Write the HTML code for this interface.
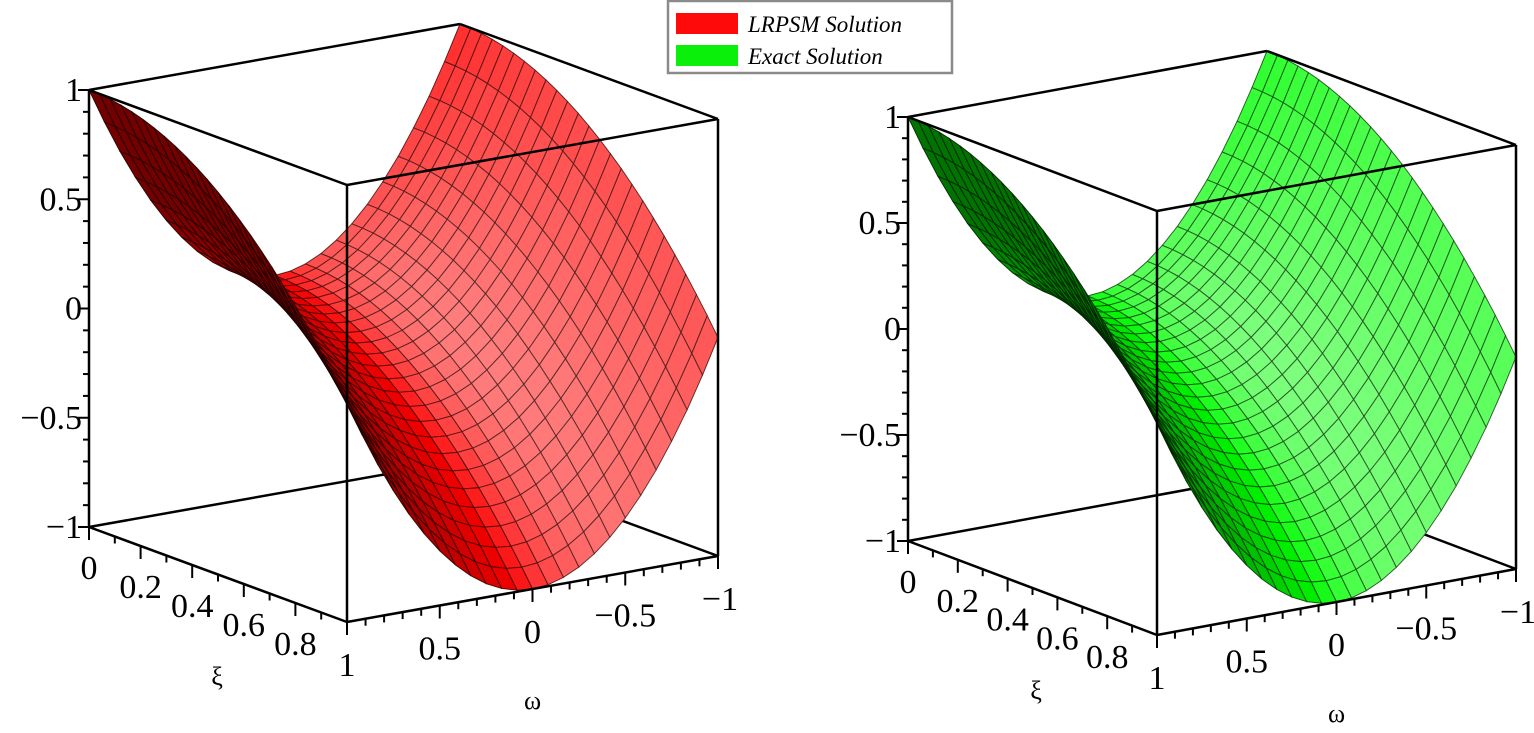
<!DOCTYPE html>
<html><head><meta charset="utf-8">
<style>
html,body{margin:0;padding:0;background:#fff;}
svg{display:block;}
text{font-family:"Liberation Serif",serif;fill:#000;}
</style></head>
<body>
<svg id="s" width="1534" height="733" viewBox="0 0 1534 733" xmlns="http://www.w3.org/2000/svg">
<rect x="0" y="0" width="1534" height="733" fill="#fff"/>
<g id="g1"></g><g id="g2"></g>
<rect x="668" y="1" width="284" height="72" fill="#fff" stroke="#8a8a8a" stroke-width="2.5"/>
<rect x="676" y="13" width="62" height="21" fill="#ff0a0a"/>
<rect x="676" y="45" width="62" height="21" fill="#0af00a"/>
<text x="748" y="32" font-size="23" font-style="italic">LRPSM Solution</text>
<text x="748" y="64" font-size="23" font-style="italic">Exact Solution</text>
</svg>
<script>
(function(){
var NS="http://www.w3.org/2000/svg";
function el(p,n,a,t){var e=document.createElementNS(NS,n);for(var k in a)e.setAttribute(k,a[k]);if(t!==undefined)e.textContent=t;p.appendChild(e);return e;}
function u(x,w){return w*w-x*x;}
function plot(g,A,Ap,Bp,Cp,green){
  var ex=[Bp[0]-Ap[0],Bp[1]-Ap[1]],ey=[Cp[0]-Bp[0],Cp[1]-Bp[1]],ez=[A[0]-Ap[0],A[1]-Ap[1]];
  function P(x,w,z){var yy=(1-w)/2,zz=(z+1)/2;return [Ap[0]+x*ex[0]+yy*ey[0]+zz*ez[0],Ap[1]+x*ex[1]+yy*ey[1]+zz*ez[1]];}
  var B=P(1,1,1),C=P(1,-1,1),D=P(0,-1,1),Dp=P(0,-1,-1);
  function line(p,q,w){el(g,"line",{x1:p[0],y1:p[1],x2:q[0],y2:q[1],stroke:"#000","stroke-width":w||2.5});}
  line(Ap,Dp);line(Dp,Cp);
  var N=24,quads=[];
  var L=[0.55,-0.75,1.0];var ln=Math.hypot(L[0],L[1],L[2]);L=L.map(function(v){return v/ln;});
  for(var i=0;i<N;i++)for(var j=0;j<N;j++){
    var x0=i/N,x1=(i+1)/N,w0=1-2*j/N,w1=1-2*(j+1)/N;
    var c=[[x0,w0],[x1,w0],[x1,w1],[x0,w1]];
    var pts=c.map(function(q){return P(q[0],q[1],u(q[0],q[1]));});
    var v3=c.map(function(q){return [q[0],(1-q[1])/2,(u(q[0],q[1])+1)/2];});
    var d1=[v3[2][0]-v3[0][0],v3[2][1]-v3[0][1],v3[2][2]-v3[0][2]];
    var d2=[v3[3][0]-v3[1][0],v3[3][1]-v3[1][1],v3[3][2]-v3[1][2]];
    var n=[d1[1]*d2[2]-d1[2]*d2[1],d1[2]*d2[0]-d1[0]*d2[2],d1[0]*d2[1]-d1[1]*d2[0]];
    var nl=Math.hypot(n[0],n[1],n[2])||1;n=n.map(function(v){return v/nl;});
    if(n[2]<0)n=n.map(function(v){return -v;});
    var t=Math.max(0,n[0]*L[0]+n[1]*L[1]+n[2]*L[2]);
    var h=Math.max(0,(t-0.72)/0.28);
    var m=Math.min(255,Math.round(115+175*t)),o=Math.round(125*h);
    var col=green?"rgb("+o+","+m+","+o+")":"rgb("+m+","+o+","+o+")";
    var xc=(x0+x1)/2,wc=(w0+w1)/2;
    var key=xc-(1-wc)/2+0.5*(u(xc,wc)+1)/2;
    quads.push({k:key,p:pts,c:col});
  }
  quads.sort(function(a,b){return a.k-b.k;});
  quads.forEach(function(q){
    var s=q.p.map(function(p){return p[0].toFixed(1)+","+p[1].toFixed(1);}).join(" ");
    el(g,"polygon",{points:s,fill:q.c,stroke:q.c,"stroke-width":0.6});
    el(g,"polygon",{points:s,fill:"none",stroke:"rgba(0,0,0,0.6)","stroke-width":1});
  });
  line(A,Ap);line(Ap,Bp);line(Bp,Cp);line(B,Bp);line(C,Cp);line(A,B);line(B,C);line(A,D);line(D,C);
  for(var k=0;k<=20;k++){var z=-1+k*0.1,p=P(0,1,z),len=(k%5==0)?11:6;line([p[0]-len,p[1]],p,2);}
  ["1","0.5","0","\u22120.5","\u22121"].forEach(function(s,idx){var z=1-idx*0.5,p=P(0,1,z);
    el(g,"text",{x:p[0]-7,y:p[1]+11,"font-size":34,"text-anchor":"end"},s);});
  for(var k=0;k<=10;k++){var p=P(k/10,1,-1),len=(k%2==0)?13:7;line(p,[p[0],p[1]+len],2);}
  ["0","0.2","0.4","0.6","0.8"].forEach(function(s,idx){var p=P(idx*0.2,1,-1);
    el(g,"text",{x:p[0],y:p[1]+52,"font-size":34,"text-anchor":"middle"},s);});
  for(var k=0;k<=20;k++){var p=P(1,1-k*0.1,-1),len=(k%5==0)?13:7;line(p,[p[0],p[1]+len],2);}
  ["1","0.5","0","\u22120.5","\u22121"].forEach(function(s,idx){var p=P(1,1-idx*0.5,-1);
    el(g,"text",{x:p[0]+(idx==4?2:0),y:p[1]+54,"font-size":34,"text-anchor":"middle"},s);});
  el(g,"text",{x:Ap[0]+128,y:Ap[1]+158,"font-size":26,"text-anchor":"middle"},"\u03be");
  var mid=P(1,0,-1);
  el(g,"text",{x:mid[0],y:mid[1]+120,"font-size":26,"text-anchor":"middle"},"\u03c9");
}
plot(document.getElementById("g1"),[89,90],[89,527],[347,622],[718,556],false);
plot(document.getElementById("g2"),[908,117],[908,541],[1157,635],[1516,569],true);
})();
</script>
</body></html>
